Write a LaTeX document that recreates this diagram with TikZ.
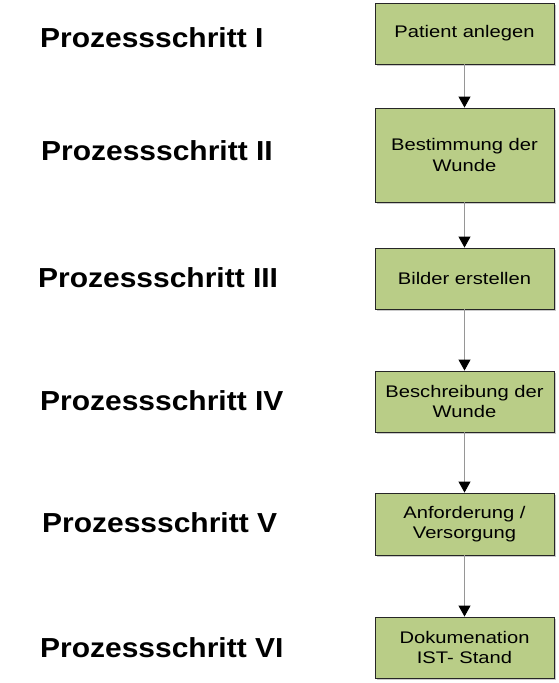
\documentclass[tikz,border=0pt]{standalone}
\usepackage{fontspec}
\setmainfont{Liberation Sans}
\newfontfamily\labfont[FakeStretch=1.09]{Liberation Sans}
\newfontfamily\boxfont[FakeStretch=1.2]{Liberation Sans}
\usetikzlibrary{arrows.meta,shadows}
\definecolor{boxgreen}{RGB}{185,205,135}
\definecolor{linegray}{RGB}{150,150,150}
\tikzset{
  stepbox/.style={draw=black!85, line width=0.9pt, fill=boxgreen, minimum width=179pt,
    inner sep=0pt, align=center,
    font=\boxfont\fontsize{16.8}{20.5}\selectfont,
    drop shadow={shadow xshift=1.5pt, shadow yshift=-1.5pt, fill=black!35, opacity=0.6}},
  steplabel/.style={anchor=base west, inner sep=0pt, font=\labfont\bfseries\fontsize{27.5}{30}\selectfont},
  flow/.style={draw=linegray, line width=1pt, -{Triangle[width=12pt,length=11pt,black]}, shorten >=0pt}
}
\begin{document}
\begin{tikzpicture}[x=1pt,y=-1pt]
\useasboundingbox (0,0) rectangle (559,683);
\node[stepbox, minimum height=61pt] (b1) at (464.5,33.5) {Patient anlegen};
\node[stepbox, minimum height=94pt] (b2) at (464.5,155) {Bestimmung der\\Wunde};
\node[stepbox, minimum height=61pt] (b3) at (464.5,278.5) {Bilder erstellen};
\node[stepbox, minimum height=61pt] (b4) at (464.5,401.5) {Beschreibung der\\Wunde};
\node[stepbox, minimum height=62pt] (b5) at (464.5,524) {Anforderung /\\Versorgung};
\node[stepbox, minimum height=61pt] (b6) at (464.5,647.5) {Dokumenation\\IST- Stand};
\draw[flow] (b1.south) -- (b2.north);
\draw[flow] (b2.south) -- (b3.north);
\draw[flow] (b3.south) -- (b4.north);
\draw[flow] (b4.south) -- (b5.north);
\draw[flow] (b5.south) -- (b6.north);
\node[steplabel] (l1) at (40,47) {Prozessschritt I};
\node[steplabel] (l2) at (41,160) {Prozessschritt II};
\node[steplabel] (l3) at (38,287) {Prozessschritt III};
\node[steplabel] (l4) at (40,410) {Prozessschritt IV};
\node[steplabel] (l5) at (42,532) {Prozessschritt V};
\node[steplabel] (l6) at (40,657) {Prozessschritt VI};
\end{tikzpicture}
\end{document}
